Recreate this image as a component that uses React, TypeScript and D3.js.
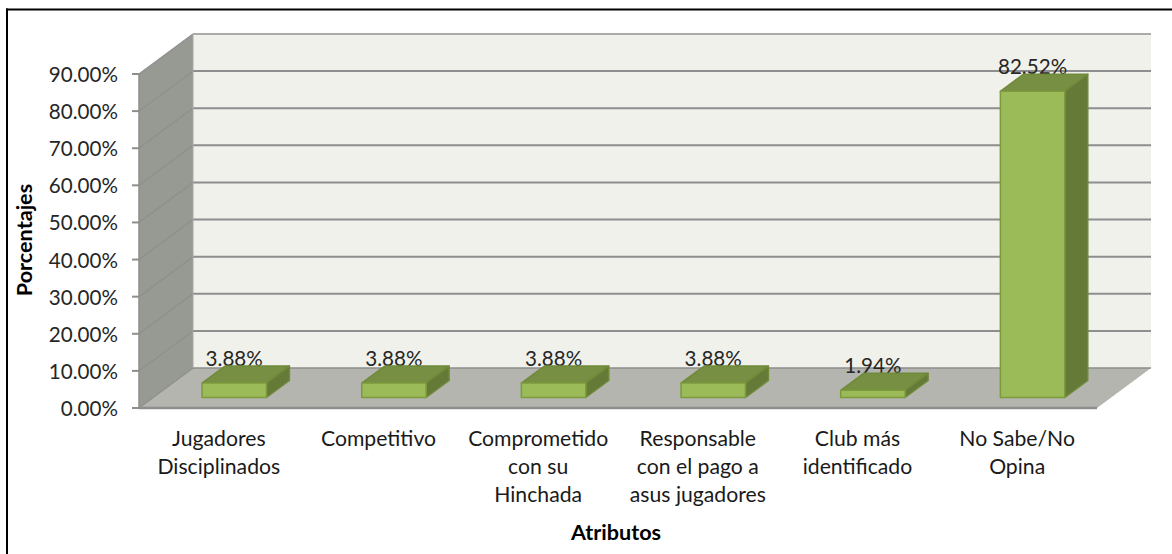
import React from "react";
import * as d3 from "d3";

const categories: string[][] = [
  ["Jugadores", "Disciplinados"],
  ["Competitivo"],
  ["Comprometido", "con su", "Hinchada"],
  ["Responsable", "con el pago a", "asus jugadores"],
  ["Club más", "identificado"],
  ["No Sabe/No", "Opina"],
];
const values = [3.88, 3.88, 3.88, 3.88, 1.94, 82.52];
const yTicks = [0, 10, 20, 30, 40, 50, 60, 70, 80, 90];

const W = 1172, H = 554;
const frontL = 139, frontR = 1097, front0 = 408, front90 = 74;
const depthX = 54, depthY = -40;
const barOffX = 14.2, barOffY = -10.5;
const barDX = 23, barDY = -17;

const FONT = "Lato, Carlito, 'Open Sans', sans-serif";
const TICK_SIZE = 20.6;
const CAT_SIZE = 21.2;
const TITLE_SIZE = 21.6;

export default function App() {
  const y = d3.scaleLinear().domain([0, 90]).range([front0, front90]);
  const xc = d3
    .scaleLinear()
    .domain([0, categories.length])
    .range([frontL, frontR]);
  const pts = (p: [number, number][]) => p.map((q) => q.join(",")).join(" ");
  const back = (v: number) => y(v) + depthY;
  const geom = (v: number, i: number) => {
    const cx = xc(i + 0.5) + barOffX + 1.2;
    const hw = 32.2;
    const b = y(0) + barOffY;
    return { cx, l: cx - hw, r: cx + hw, b, t: b - (y(0) - y(v)) };
  };
  return (
    <svg
      width={W}
      height={H}
      style={{ position: "absolute", left: 0, top: 0, background: "#fff" }}
      fontFamily={FONT}
    >
      <line x1={6} x2={W} y1={9.5} y2={9.5} stroke="#000" strokeWidth={2} />
      <line x1={7} x2={7} y1={8.5} y2={H} stroke="#000" strokeWidth={2} />
      {/* back wall */}
      <rect x={frontL + depthX} y={back(90)} width={frontR - frontL} height={y(0) - y(90)} fill="#eff1ea" />
      {/* side wall */}
      <polygon
        points={pts([
          [frontL, y(0)],
          [frontL, y(90)],
          [frontL + depthX, back(90)],
          [frontL + depthX, back(0)],
        ])}
        fill="#979a92"
      />
      {/* floor */}
      <polygon
        points={pts([
          [frontL, y(0)],
          [frontR, y(0)],
          [frontR + depthX, back(0)],
          [frontL + depthX, back(0)],
        ])}
        fill="#b3b5ae"
      />
      {/* gridlines */}
      {yTicks.map((t) => (
        <g key={t} fill="none" stroke="#8e8e8e">
          {t > 0 && (
            <line
              x1={frontL + depthX}
              x2={frontR + depthX}
              y1={back(t)}
              y2={back(t)}
              strokeWidth={2}
              stroke={t === 90 ? "#ababab" : "#8e8e8e"}
            />
          )}
          <line x1={frontL} x2={frontL + depthX} y1={y(t)} y2={back(t)} strokeWidth={1.2} />
          <line x1={frontL - 7} x2={frontL} y1={y(t)} y2={y(t)} strokeWidth={2} />
        </g>
      ))}
      <line x1={frontL + depthX} x2={frontL + depthX} y1={back(90)} y2={back(0)} stroke="#a8a8a8" strokeWidth={1} />
      <line x1={frontL} x2={frontL} y1={y(0)} y2={y(90)} stroke="#8e8e8e" strokeWidth={1.5} />
      <line x1={frontL} x2={frontR} y1={y(0)} y2={y(0)} stroke="#8e8e8e" strokeWidth={2.5} />
      <line x1={frontL + depthX} x2={frontR + depthX} y1={back(0)} y2={back(0)} stroke="#8e8e8e" strokeWidth={1.5} />
      {/* y tick labels */}
      {yTicks.map((t) => (
        <text key={t} x={118} y={y(t) + 8} textAnchor="end" fontSize={TICK_SIZE} fill="#262626">
          {d3.format(".2f")(t)}%
        </text>
      ))}
      {/* value labels sit behind the bars, which clip their feet */}
      {values.map((v, i) => {
        const g = geom(v, i);
        return (
          <text key={i} x={g.cx} y={g.t + barDY - 0.5} textAnchor="middle" fontSize={TICK_SIZE} fill="#262626">
            {d3.format(".2f")(v)}%
          </text>
        );
      })}
      {/* bars */}
      {values.map((v, i) => {
        const { l, r, b, t } = geom(v, i);
        return (
          <g key={i} stroke="#7d9a3f" strokeWidth={1.5} strokeLinejoin="round">
            <polygon
              points={pts([
                [l, t],
                [r, t],
                [r + barDX, t + barDY],
                [l + barDX, t + barDY],
              ])}
              fill="#778f43"
              stroke="#6f8a3a"
            />
            <polygon
              points={pts([
                [r, b],
                [r, t],
                [r + barDX, t + barDY],
                [r + barDX, b + barDY],
              ])}
              fill="#667a38"
              stroke="#6f8a3a"
            />
            <rect x={l} y={t} width={r - l} height={b - t} fill="#9bbb59" />
          </g>
        );
      })}
      {/* category labels */}
      {categories.map((lines, i) => (
        <text key={i} textAnchor="middle" fontSize={CAT_SIZE} fill="#1a1a1a">
          {lines.map((s, j) => (
            <tspan key={j} x={xc(i + 0.5)} y={446 + j * 28}>
              {s}
            </tspan>
          ))}
        </text>
      ))}
      <text x={616} y={540} textAnchor="middle" fontSize={TITLE_SIZE} fontWeight={700} fill="#000">
        Atributos
      </text>
      <text
        transform="translate(32,240) rotate(-90)"
        textAnchor="middle"
        fontSize={TITLE_SIZE}
        fontWeight={700}
        fill="#000"
      >
        Porcentajes
      </text>
    </svg>
  );
}
